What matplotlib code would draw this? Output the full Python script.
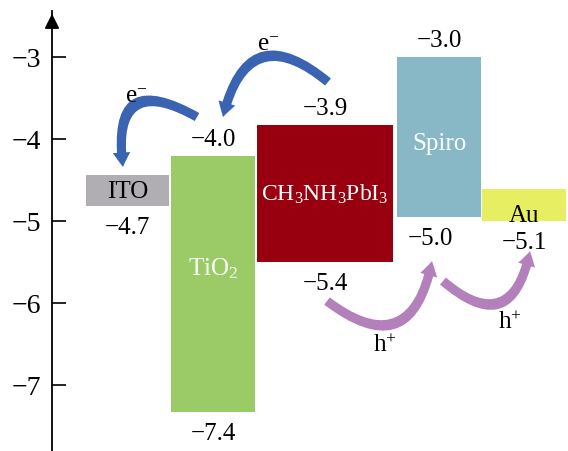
import matplotlib.pyplot as plt
from matplotlib.patches import FancyArrowPatch

plt.rcParams['font.family'] = ['Liberation Serif', 'DejaVu Serif']
plt.rcParams['mathtext.fontset'] = 'custom'
plt.rcParams['mathtext.rm'] = 'Liberation Serif'
plt.rcParams['mathtext.it'] = 'Liberation Serif:italic'

# energy levels (eV) as drawn, and the values written next to them
layers = ['ITO', 'TiO$_2$', 'CH$_3$NH$_3$PbI$_3$', 'Spiro', 'Au']
top = [-4.45, -4.21, -3.83, -3.0, -4.62]
bottom = [-4.82, -7.33, -5.50, -4.96, -5.00]
top_labels = ['', '\u22124.0', '\u22123.9', '\u22123.0', '']
bottom_labels = ['\u22124.7', '\u22127.4', '\u22125.4', '\u22125.0', '\u22125.1']
yticks = [-3, -4, -5, -6, -7]

# layout (pixels)
lefts = [86, 171, 257, 397, 482]
widths = [83, 84, 136, 84, 84]
colors = ['#b1aeb3', '#9acb67', '#98000f', '#88b8c6', '#e8ee62']
name_colors = ['black', 'white', 'white', 'white', 'black']
name_sizes = [18, 18, 17, 18, 18]
name_y = [None, -5.58, None, -4.05, -4.93]
bottom_dx = [0, 0, 0, -9, 0]

W, H = 568, 452
fig = plt.figure(figsize=(W / 100, H / 100), dpi=100)
ax = fig.add_axes([52 / W, 0, 1 - 52 / W, (H - 12) / H])
ax.set_xlim(52, 568)
ax.set_ylim(-7.81, -2.445)

ax.bar(lefts, [t - b for t, b in zip(top, bottom)], bottom=bottom, width=widths,
       align='edge', color=colors, linewidth=0)

for i, name in enumerate(layers):
    cx = lefts[i] + widths[i] / 2
    ny = name_y[i] if name_y[i] is not None else (top[i] + bottom[i]) / 2
    ax.text(cx, ny, name, color=name_colors[i], fontsize=name_sizes[i], ha='center', va='center')
    if top_labels[i]:
        ax.annotate(top_labels[i], (cx, top[i]), xytext=(0, 17), textcoords='offset pixels',
                    ha='center', va='center', fontsize=18)
    ax.annotate(bottom_labels[i], (cx + bottom_dx[i], bottom[i]), xytext=(0, -21),
                textcoords='offset pixels', ha='center', va='center', fontsize=18)

# axis styling
for s in ['top', 'right', 'bottom']:
    ax.spines[s].set_visible(False)
ax.spines['left'].set_linewidth(1.3)
ax.set_xticks([])
ax.set_yticks(yticks)
ax.set_yticklabels(['\u2212%d' % abs(t) for t in yticks], fontsize=20)
ax.tick_params(axis='y', direction='in', length=10, width=1.2, pad=8)
ax.annotate('', xy=(0, 1.0), xytext=(0, 0.96), xycoords='axes fraction',
            arrowprops=dict(arrowstyle='-|>', color='black', lw=1.3, mutation_scale=22))


def px(x, y):
    # image pixel -> data coords (for annotation arrows)
    return x, -3 - (y - 57.5) / 82.0


arrows = [
    ((328, 83), (223, 118), 0.8, '#3a64b2'),
    ((197, 118), (123, 168), 1.0, '#3a64b2'),
    ((327, 302), (432, 262), 0.8, '#b480bb'),
    ((443, 282), (530, 252), 0.85, '#b480bb'),
]
for a, b, rad, c in arrows:
    p = FancyArrowPatch(px(*a), px(*b), connectionstyle='arc3,rad=%s' % rad,
                        arrowstyle='simple,head_width=1.15,head_length=0.95,tail_width=0.6',
                        mutation_scale=11, color=c, lw=0, shrinkA=0, shrinkB=0)
    ax.add_patch(p)

for x, y, s in [(136, 97, 'e$^{-}$'), (268, 45, 'e$^{-}$'), (385, 345, 'h$^{+}$'), (510, 322, 'h$^{+}$')]:
    ax.text(*px(x, y), s, fontsize=18, ha='center', va='center')

fig.savefig('out.png', dpi=100)
